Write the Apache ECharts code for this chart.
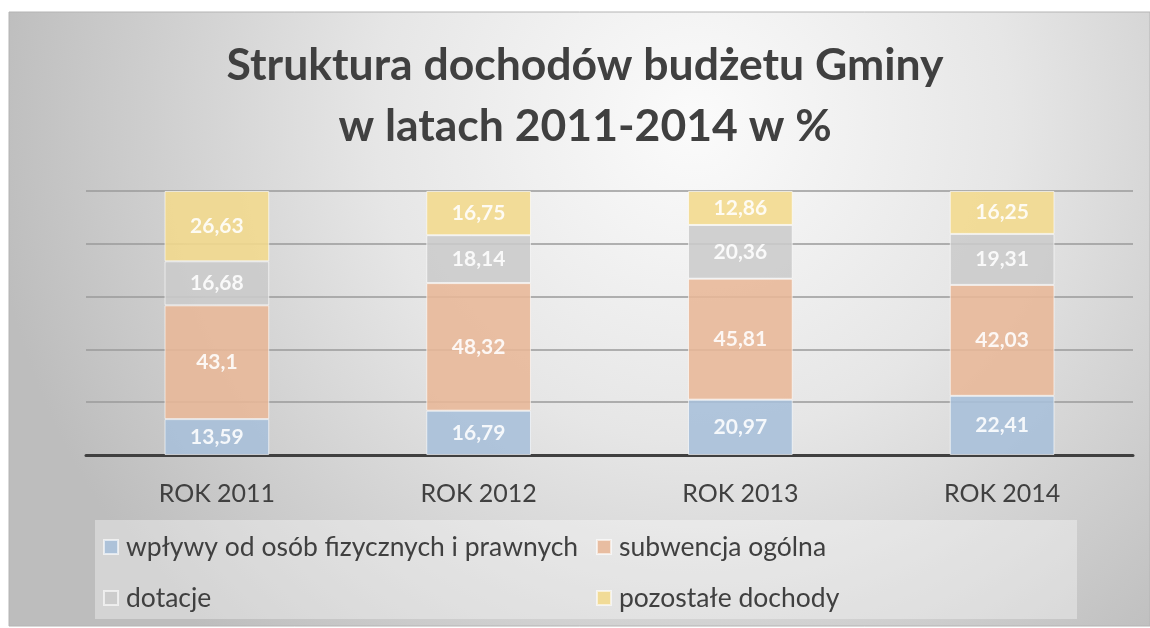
<!DOCTYPE html>
<html>
<head>
<meta charset="utf-8">
<script src="https://cdn.jsdelivr.net/npm/echarts@6/dist/echarts.min.js"></script>
<style>
  html, body { margin: 0; padding: 0; background: #fff; }
  #chart { width: 1150px; height: 628px; }
</style>
</head>
<body>
<div id="chart"></div>
<script>
// dane wykresu
const years = ['ROK 2011', 'ROK 2012', 'ROK 2013', 'ROK 2014']
const seriesNames = ['wpływy od osób fizycznych i prawnych', 'subwencja ogólna', 'dotacje', 'pozostałe dochody']
const wplywy = [13.59, 16.79, 20.97, 22.41]
const subwencja = [43.1, 48.32, 45.81, 42.03]
const dotacje = [16.68, 18.14, 20.36, 19.31]
const pozostale = [26.63, 16.75, 12.86, 16.25]
const colors = ['#a7bfd9', '#e8b797', '#cbcbcb', '#f3d98c']

const chart = echarts.init(document.getElementById('chart'))

const font = 'Lato, "Open Sans", sans-serif'

// wspólne ustawienia serii
const makeSeries = (name, data, color) => ({
  name: name,
  type: 'bar',
  stack: 'total',
  barWidth: '40%',
  data: data,
  itemStyle: {
    color: color,
    opacity: 0.88,
    borderColor: 'rgba(255,255,255,0.7)',
    borderWidth: 1
  },
  label: {
    show: true,
    position: 'inside',
    color: '#fff',
    fontFamily: font,
    fontWeight: 'bold',
    fontSize: 21,
    formatter: p => String(p.value).replace('.', ',')
  }
})

const legendText = {
  color: '#404040',
  fontFamily: font,
  fontSize: 26.5,
  lineHeight: 28,
  padding: [0, 0, 0, 3]
}

const option = {
  animation: false,
  graphic: [
    {
      type: 'rect',
      z: -10,
      shape: { x: 9, y: 12, width: 1141, height: 614 },
      style: {
        fill: {
          type: 'radial', x: 0.6, y: 0.18, r: 1.15,
          colorStops: [
            { offset: 0, color: '#fbfbfb' },
            { offset: 0.45, color: '#e6e6e6' },
            { offset: 1, color: '#bdbdbd' }
          ]
        },
        stroke: '#b4b4b4',
        lineWidth: 1
      }
    },
    {
      type: 'rect',
      z: -9,
      shape: { x: 95, y: 520, width: 982, height: 99 },
      style: { fill: 'rgba(255,255,255,0.35)' }
    }
  ],
  title: {
    text: 'Struktura dochodów budżetu Gminy\nw latach 2011-2014 w %',
    left: 580,
    top: 30,
    padding: 5,
    textAlign: 'center',
    textStyle: {
      color: '#404040',
      fontFamily: font,
      fontWeight: 'bold',
      fontSize: 44.5,
      lineHeight: 61
    }
  },
  legend: [
    {
      orient: 'vertical',
      left: 103,
      top: 533,
      padding: 0,
      itemGap: 23,
      itemWidth: 14,
      itemHeight: 14,
      icon: 'rect',
      data: [seriesNames[0], seriesNames[2]],
      textStyle: legendText
    },
    {
      orient: 'vertical',
      left: 596,
      top: 533,
      padding: 0,
      itemGap: 23,
      itemWidth: 14,
      itemHeight: 14,
      icon: 'rect',
      data: [seriesNames[1], seriesNames[3]],
      textStyle: legendText
    }
  ],
  grid: {
    left: 86,
    right: 17,
    top: 191,
    bottom: 173
  },
  xAxis: {
    type: 'category',
    data: years,
    axisTick: { show: false },
    axisLine: { lineStyle: { color: '#404040', width: 3 } },
    axisLabel: {
      color: '#404040',
      fontFamily: font,
      fontSize: 25,
      margin: 26
    }
  },
  yAxis: {
    type: 'value',
    min: 0,
    max: 100,
    interval: 20,
    axisLabel: { show: false },
    axisLine: { show: false },
    axisTick: { show: false },
    splitLine: { lineStyle: { color: '#9a9a9a', width: 1.5 } }
  },
  series: [
    makeSeries(seriesNames[0], wplywy, colors[0]),
    makeSeries(seriesNames[1], subwencja, colors[1]),
    makeSeries(seriesNames[2], dotacje, colors[2]),
    makeSeries(seriesNames[3], pozostale, colors[3])
  ]
}

chart.setOption(option)
</script>
</body>
</html>
